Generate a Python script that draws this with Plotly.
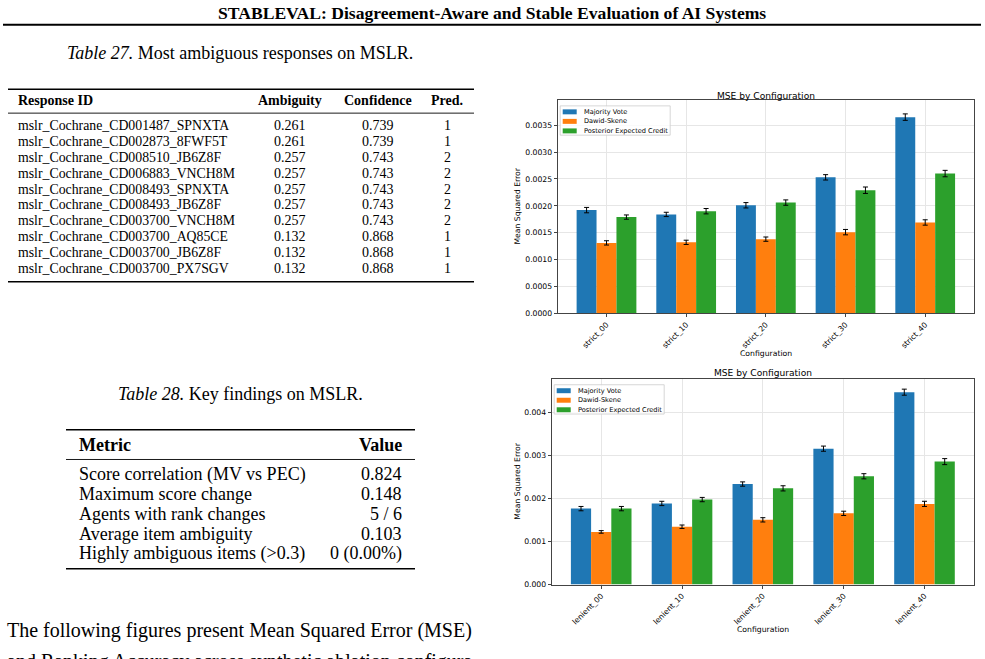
import plotly.graph_objects as go

W, H = 985, 659


def px(x):
    return x / W


def py(y):
    return 1 - y / H


# ---------------- data ----------------
SERIES = ["Majority Vote", "Dawid-Skene", "Posterior Expected Credit"]
COLORS = ["#1f77b4", "#ff7f0e", "#2ca02c"]

strict_configs = ["strict_00", "strict_10", "strict_20", "strict_30", "strict_40"]
strict_mv = [0.00192, 0.00184, 0.00201, 0.00253, 0.00365]
strict_ds = [0.00131, 0.00132, 0.00138, 0.00151, 0.00169]
strict_pec = [0.00179, 0.00190, 0.00206, 0.00229, 0.00260]
strict_mv_err = [0.00005, 0.00004, 0.00005, 0.00005, 0.00006]
strict_ds_err = [0.00004, 0.00004, 0.00004, 0.00005, 0.00005]
strict_pec_err = [0.00004, 0.00005, 0.00005, 0.00006, 0.00006]
strict_ticks = [0.0, 0.0005, 0.0010, 0.0015, 0.0020, 0.0025, 0.0030, 0.0035]

lenient_configs = ["lenient_00", "lenient_10", "lenient_20", "lenient_30", "lenient_40"]
lenient_mv = [0.00176, 0.00188, 0.00233, 0.00315, 0.00446]
lenient_ds = [0.00122, 0.00134, 0.00150, 0.00165, 0.00187]
lenient_pec = [0.00176, 0.00197, 0.00223, 0.00251, 0.00285]
lenient_mv_err = [0.00005, 0.00005, 0.00005, 0.00006, 0.00007]
lenient_ds_err = [0.00003, 0.00004, 0.00005, 0.00005, 0.00006]
lenient_pec_err = [0.00005, 0.00005, 0.00006, 0.00006, 0.00007]
lenient_ticks = [0.0, 0.001, 0.002, 0.003, 0.004]

t27_ids = [
    "mslr_Cochrane_CD001487_SPNXTA",
    "mslr_Cochrane_CD002873_8FWF5T",
    "mslr_Cochrane_CD008510_JB6Z8F",
    "mslr_Cochrane_CD006883_VNCH8M",
    "mslr_Cochrane_CD008493_SPNXTA",
    "mslr_Cochrane_CD008493_JB6Z8F",
    "mslr_Cochrane_CD003700_VNCH8M",
    "mslr_Cochrane_CD003700_AQ85CE",
    "mslr_Cochrane_CD003700_JB6Z8F",
    "mslr_Cochrane_CD003700_PX7SGV",
]
t27_ambiguity = [0.261, 0.261, 0.257, 0.257, 0.257, 0.257, 0.257, 0.132, 0.132, 0.132]
t27_confidence = [0.739, 0.739, 0.743, 0.743, 0.743, 0.743, 0.743, 0.868, 0.868, 0.868]
t27_pred = [1, 1, 2, 2, 2, 2, 2, 1, 1, 1]

t28_metrics = [
    "Score correlation (MV vs PEC)",
    "Maximum score change",
    "Agents with rank changes",
    "Average item ambiguity",
    "Highly ambiguous items (&gt;0.3)",
]
t28_values = ["0.824", "0.148", "5 / 6", "0.103", "0 (0.00%)"]

# ---------------- figure ----------------
SERIF = "Liberation Serif"
SANS = "DejaVu Sans"

fig = go.Figure()

charts = [
    dict(x="x", y="y", cats=strict_configs,
         vals=[strict_mv, strict_ds, strict_pec],
         errs=[strict_mv_err, strict_ds_err, strict_pec_err]),
    dict(x="x2", y="y2", cats=lenient_configs,
         vals=[lenient_mv, lenient_ds, lenient_pec],
         errs=[lenient_mv_err, lenient_ds_err, lenient_pec_err]),
]

for c in charts:
    for name, col, v, e in zip(SERIES, COLORS, c["vals"], c["errs"]):
        fig.add_trace(go.Bar(
            x=c["cats"], y=v, name=name, marker=dict(color=col, line=dict(width=0)),
            error_y=dict(type="data", array=e, visible=True, color="black",
                         thickness=1, width=2.5),
            xaxis=c["x"], yaxis=c["y"], showlegend=False,
        ))

# plot areas (pixels)
A1 = dict(l=557.7, r=974, t=100.7, b=315.7)
A2 = dict(l=551.7, r=974, t=381.7, b=589)

axis_common = dict(
    showline=True, linecolor="#444", linewidth=1, mirror=True,
    showgrid=True, gridcolor="#e6e6e6", gridwidth=0.8,
    ticks="outside", ticklen=3, tickcolor="#444", tickwidth=0.8,
    tickfont=dict(family=SANS, size=7.7, color="black"), zeroline=False,
)

fig.update_layout(
    width=W, height=H, margin=dict(l=0, r=0, t=0, b=0),
    paper_bgcolor="white", plot_bgcolor="white",
    barmode="group", bargap=0.25, bargroupgap=0.0,
    showlegend=False,
    xaxis=dict(domain=[px(A1["l"]), px(A1["r"])], anchor="y",
               range=[-0.6125, 4.6125], tickangle=-45, **axis_common),
    yaxis=dict(domain=[py(A1["b"]), py(A1["t"])], anchor="x",
               range=[0, 0.00397], tickvals=strict_ticks, tickformat=".4f",
               **axis_common),
    xaxis2=dict(domain=[px(A2["l"]), px(A2["r"])], anchor="y2",
                range=[-0.6125, 4.6125], tickangle=-45, **axis_common),
    yaxis2=dict(domain=[py(A2["b"]), py(A2["t"])], anchor="x2",
                range=[0, 0.00477], tickvals=lenient_ticks, tickformat=".3f",
                **axis_common),
)

ann = []
shapes = []


def text(x, y, s, size, family=SERIF, xanchor="left", color="black", angle=0):
    ann.append(dict(x=px(x), y=py(y), xref="paper", yref="paper", text=s,
                    showarrow=False, xanchor=xanchor, yanchor="middle",
                    textangle=angle,
                    font=dict(family=family, size=size, color=color)))


def hline(x0, x1, y, w):
    shapes.append(dict(type="line", xref="paper", yref="paper",
                       x0=px(x0), x1=px(x1), y0=py(y), y1=py(y),
                       line=dict(color="black", width=w)))


# page header
text(492, 13, "<b>STABLEVAL: Disagreement-Aware and Stable Evaluation of AI Systems</b>",
     17.6, xanchor="center")
hline(3, 981, 25, 2)

# Table 27
text(240, 53, "<i>Table 27.</i> Most ambiguous responses on MSLR.", 18, xanchor="center")
hline(8, 474, 90, 1.5)
text(16, 101.5, "<b>Response ID</b>", 14)
text(290, 101.5, "<b>Ambiguity</b>", 14, xanchor="center")
text(377.5, 101.5, "<b>Confidence</b>", 14, xanchor="center")
text(447, 101.5, "<b>Pred.</b>", 14, xanchor="center")
hline(8, 474, 114, 0.9)
for i, (rid, a, cf, pr) in enumerate(zip(t27_ids, t27_ambiguity, t27_confidence, t27_pred)):
    yy = 126.5 + 16 * i
    text(16, yy, rid, 13.8)
    text(290, yy, f"{a:.3f}", 14, xanchor="center")
    text(377.5, yy, f"{cf:.3f}", 14, xanchor="center")
    text(447, yy, str(pr), 14, xanchor="center")
hline(8, 474, 284, 1.5)

# Table 28
text(240, 397, "<i>Table 28.</i> Key findings on MSLR.", 18, xanchor="center")
hline(66, 415, 433, 1.5)
text(77, 448, "<b>Metric</b>", 18)
text(404, 448, "<b>Value</b>", 18, xanchor="right")
hline(66, 415, 463, 0.9)
for i, (m, v) in enumerate(zip(t28_metrics, t28_values)):
    yy = 478 + 20 * i
    text(77, yy, m, 18)
    text(404, yy, v, 18, xanchor="right")
hline(66, 415, 573, 1.5)

# body paragraph
text(5, 635, "The following figures present Mean Squared Error (MSE)", 20)
text(5, 667, "and Ranking Accuracy across synthetic ablation configura-", 20)

# chart titles / axis labels / legends
for A, title_y, xlab_y in [(A1, 96.7, 356.7), (A2, 375.5, 634)]:
    cx = (A["l"] + A["r"]) / 2
    text(cx, title_y, "MSE by Configuration", 9.1, family=SANS, xanchor="center")
    text(cx, xlab_y, "Configuration", 7.7, family=SANS, xanchor="center")
    text(518, (A["t"] + A["b"]) / 2, "Mean Squared Error", 7.7, family=SANS,
         xanchor="center", angle=-90)
    # legend box
    bl, bt = A["l"] + 2.5, A["t"] + 6
    shapes.append(dict(type="rect", xref="paper", yref="paper",
                       x0=px(bl), x1=px(bl + 110), y0=py(bt + 29.5), y1=py(bt),
                       line=dict(color="#cccccc", width=0.8), fillcolor="rgba(255,255,255,0.8)"))
    for k, (name, col) in enumerate(zip(SERIES, COLORS)):
        ey = bt + 6 + 9.6 * k
        shapes.append(dict(type="rect", xref="paper", yref="paper",
                           x0=px(bl + 2.5), x1=px(bl + 16.5), y0=py(ey + 2.5), y1=py(ey - 2.5),
                           line=dict(width=0), fillcolor=col))
        text(bl + 21.5, ey, name, 6.6, family=SANS)

fig.update_layout(annotations=ann, shapes=shapes)

fig.write_html("out.html")
